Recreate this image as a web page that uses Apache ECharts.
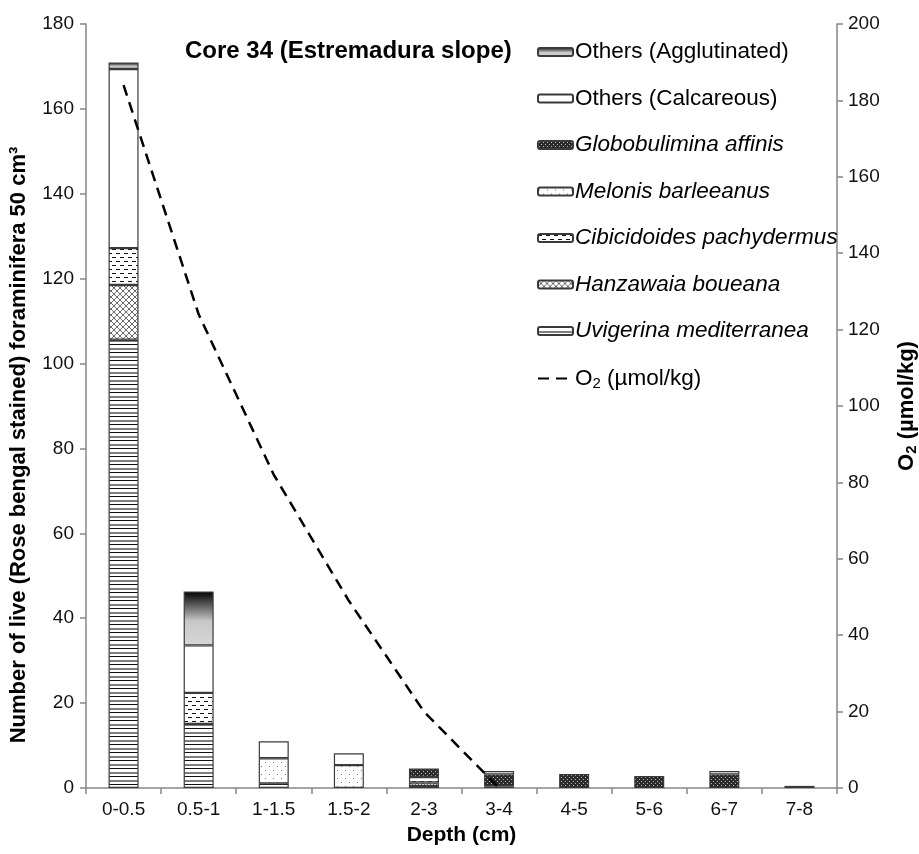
<!DOCTYPE html>
<html>
<head>
<meta charset="utf-8">
<script src="https://cdn.jsdelivr.net/npm/echarts@6/dist/echarts.min.js"></script>
<style>
html,body{margin:0;padding:0;background:#fff;}
#chart{width:919px;height:854px;}
</style>
</head>
<body>
<div id="chart"></div>
<script>
// ---- data ----
var categories = ['0-0.5','0.5-1','1-1.5','1.5-2','2-3','3-4','4-5','5-6','6-7','7-8'];
var uvigerina     = [105.6, 15.1, 1.1, 0,   0.5, 0.4, 0,   0,   0,   0];
var hanzawaia     = [12.9,  0,    0,   0,   0.8, 0,   0,   0,   0,   0];
var cibicidoides  = [8.7,   7.3,  0,   0,   1.3, 0,   0,   0,   0,   0];
var melonis       = [0,     0,    5.9, 5.4, 0,   0,   0,   0,   0,   0];
var globobulimina = [0,     0,    0,   0,   2.0, 2.8, 3.3, 2.8, 3.2, 0];
var calcareous    = [42.2,  11.2, 4.0, 2.8, 0,   0.8, 0,   0,   0.8, 0.5];
var agglutinated  = [1.5,   12.7, 0,   0,   0,   0,   0,   0,   0,   0];
var o2            = [184, 124, 82, 49, 20, 0];
var leftTicks  = {min: 0, max: 180, interval: 20};
var rightTicks = {min: 0, max: 200, interval: 20};

// ---- patterns ----
function makeCanvas(w, h, draw) {
  var c = document.createElement('canvas');
  c.width = w; c.height = h;
  var ctx = c.getContext('2d');
  ctx.fillStyle = '#fff'; ctx.fillRect(0, 0, w, h);
  draw(ctx);
  return {image: c, repeat: 'repeat'};
}
var patUvi = makeCanvas(4, 8, function (ctx) {
  ctx.fillStyle = '#111'; ctx.fillRect(0, 0, 4, 1);
  ctx.fillStyle = '#808080'; ctx.fillRect(0, 4, 4, 2);
});
var patHan = makeCanvas(6, 6, function (ctx) {
  ctx.strokeStyle = '#444'; ctx.lineWidth = 0.8;
  ctx.beginPath();
  ctx.moveTo(0, 0); ctx.lineTo(6, 6);
  ctx.moveTo(6, 0); ctx.lineTo(0, 6);
  ctx.stroke();
});
var patCib = makeCanvas(8, 8, function (ctx) {
  ctx.fillStyle = '#111';
  ctx.fillRect(0, 1, 4, 1);
  ctx.fillRect(4, 5, 4, 1);
});
var patMel = makeCanvas(8, 8, function (ctx) {
  ctx.fillStyle = '#777';
  ctx.fillRect(1, 2, 1, 1);
  ctx.fillRect(5, 6, 1, 1);
});
var patGlo = makeCanvas(4, 4, function (ctx) {
  ctx.fillStyle = '#2b2b2b'; ctx.fillRect(0, 0, 4, 4);
  ctx.fillStyle = '#b8b8b8';
  ctx.fillRect(1, 1, 1, 1);
  ctx.fillRect(3, 3, 1, 1);
});
var gradAgg = {
  type: 'linear', x: 0, y: 0, x2: 0, y2: 1,
  colorStops: [
    {offset: 0, color: '#000'},
    {offset: 0.55, color: '#c8c8c8'},
    {offset: 1, color: '#d6d6d6'}
  ]
};

var FONT = "'Liberation Sans', Arial, sans-serif";
var border = {borderColor: '#3a3a3a', borderWidth: 1.2};

function barSeries(name, arr, color) {
  return {
    name: name, type: 'bar', stack: 'total', barWidth: 30,
    data: arr.map(function (v) { return v === 0 ? '-' : v; }),
    itemStyle: Object.assign({color: color}, border),
    emphasis: {disabled: true}
  };
}

var italicNames = ['Globobulimina affinis', 'Melonis barleeanus', 'Cibicidoides pachydermus',
                   'Hanzawaia boueana', 'Uvigerina mediterranea'];
var O2NAME = 'O2 (µmol/kg)';

var chart = echarts.init(document.getElementById('chart'), null, {renderer: 'canvas'});
chart.setOption({
  animation: false,
  backgroundColor: '#fff',
  textStyle: {fontFamily: FONT},
  title: {
    text: 'Core 34 (Estremadura slope)',
    left: 180, top: 34,
    textStyle: {fontFamily: FONT, fontSize: 24, fontWeight: 'bold', color: '#000'}
  },
  legend: {
    orient: 'vertical', left: 532, top: 35.5,
    itemWidth: 35, itemHeight: 8, itemGap: 23.5,
    data: ['Others (Agglutinated)', 'Others (Calcareous)', 'Globobulimina affinis', 'Melonis barleeanus',
           'Cibicidoides pachydermus', 'Hanzawaia boueana', 'Uvigerina mediterranea',
           {name: O2NAME, itemStyle: {opacity: 0, color: 'transparent', borderWidth: 0}}],
    formatter: function (name) {
      if (name === O2NAME) return '{n|O}{s|2}{n| (µmol/kg)}';
      if (italicNames.indexOf(name) >= 0) return '{i|' + name + '}';
      return '{n|' + name + '}';
    },
    textStyle: {
      fontFamily: FONT, fontSize: 22.5, color: '#000', padding: [0, 0, 0, -3],
      rich: {
        n: {fontFamily: FONT, fontSize: 22.5, lineHeight: 23, color: '#000'},
        i: {fontFamily: FONT, fontSize: 22.5, lineHeight: 23, fontStyle: 'italic', color: '#000'},
        s: {fontFamily: FONT, fontSize: 15, lineHeight: 15, padding: [10, 0, 0, 0], color: '#000'}
      }
    },
    selectedMode: false
  },
  grid: {left: 86, right: 82, top: 24, bottom: 66, containLabel: false, outerBoundsMode: 'none'},
  xAxis: {
    type: 'category', data: categories,
    name: 'Depth (cm)', nameLocation: 'middle', nameGap: 37,
    nameTextStyle: {fontFamily: FONT, fontSize: 21, fontWeight: 'bold', color: '#000'},
    axisLine: {lineStyle: {color: '#868686', width: 1.5}},
    axisTick: {show: true, length: 6, lineStyle: {color: '#868686', width: 1.5}},
    axisLabel: {fontFamily: FONT, fontSize: 19, color: '#111', margin: 12}
  },
  yAxis: [{
    type: 'value', min: leftTicks.min, max: leftTicks.max, interval: leftTicks.interval,
    name: 'Number of live (Rose bengal stained) foraminifera 50 cm³',
    nameLocation: 'middle', nameGap: 56, nameRotate: 90,
    nameTextStyle: {fontFamily: FONT, fontSize: 22, fontWeight: 'bold', color: '#000', padding: [0, 78, 0, 0]},
    axisLine: {show: true, lineStyle: {color: '#868686', width: 1.5}},
    axisTick: {show: true, length: 6, lineStyle: {color: '#868686', width: 1.5}},
    axisLabel: {fontFamily: FONT, fontSize: 19, color: '#111', margin: 12},
    splitLine: {show: false}
  }, {
    type: 'value', position: 'right', min: rightTicks.min, max: rightTicks.max, interval: rightTicks.interval,
    name: '{b|O}{sub|2}{b| (µmol/kg)}',
    nameLocation: 'middle', nameGap: 58, nameRotate: 90,
    nameTextStyle: {
      fontFamily: FONT, fontSize: 22, fontWeight: 'bold', color: '#000',
      rich: {
        b: {fontFamily: FONT, fontSize: 22, fontWeight: 'bold', color: '#000', lineHeight: 23},
        sub: {fontFamily: FONT, fontSize: 15, fontWeight: 'bold', color: '#000', lineHeight: 15, padding: [10, 0, 0, 0]}
      }
    },
    axisLine: {show: true, lineStyle: {color: '#868686', width: 1.5}},
    axisTick: {show: true, length: 6, lineStyle: {color: '#868686', width: 1.5}},
    axisLabel: {fontFamily: FONT, fontSize: 19, color: '#111', margin: 11},
    splitLine: {show: false}
  }],
  series: [
    barSeries('Uvigerina mediterranea', uvigerina, patUvi),
    barSeries('Hanzawaia boueana', hanzawaia, patHan),
    barSeries('Cibicidoides pachydermus', cibicidoides, patCib),
    barSeries('Melonis barleeanus', melonis, patMel),
    barSeries('Globobulimina affinis', globobulimina, patGlo),
    barSeries('Others (Calcareous)', calcareous, '#fff'),
    barSeries('Others (Agglutinated)', agglutinated, gradAgg),
    {
      name: O2NAME, type: 'line', yAxisIndex: 1, data: o2,
      symbol: 'none', showSymbol: false, z: 10,
      lineStyle: {color: '#000', width: 2.5, type: [11, 7]},
      itemStyle: {color: '#000'},
      emphasis: {disabled: true}
    }
  ]
});
</script>
</body>
</html>
